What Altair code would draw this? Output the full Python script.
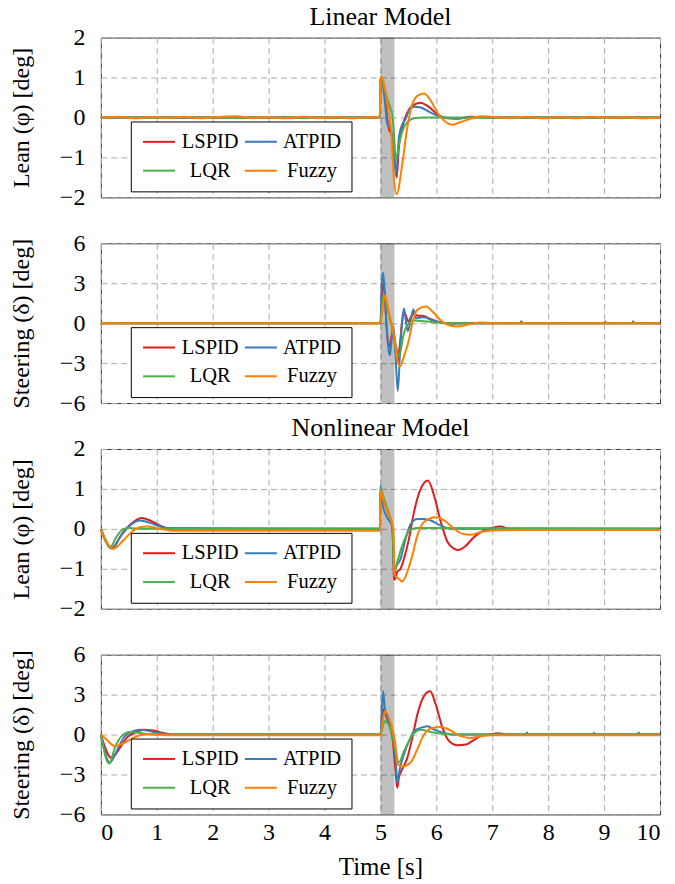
import altair as alt
import pandas as pd

FONT = "Liberation Serif"
SERIES = ["LSPID", "ATPID", "LQR", "Fuzzy"]
COLORS = ["#e41a1c", "#377eb8", "#4daf4a", "#ff7f00"]
X_TICKS = list(range(11))
LEAN_TICKS = [-2, -1, 0, 1, 2]
STEER_TICKS = [-6, -3, 0, 3, 6]
BAND_START = [5.0]
BAND_END = [5.25]

# ---------------- Linear model, lean ----------------
LIN_LEAN_LSPID_T = [0, 4.99, 5.0, 5.02, 5.065, 5.125, 5.155, 5.2, 5.26, 5.29, 5.33, 5.39, 5.48, 5.57, 5.72, 5.84, 6.02, 6.2, 6.38, 6.61, 7.0, 10]
LIN_LEAN_LSPID_V = [0, 0, 0.95, 0.97, 0.75, -0.08, -0.3, -0.42, -1.17, -1.5, -0.75, -0.25, 0.12, 0.29, 0.37, 0.29, 0.08, -0.02, -0.03, 0.02, 0, 0]
LIN_LEAN_ATPID_T = [0, 4.99, 5.0, 5.02, 5.065, 5.125, 5.185, 5.245, 5.28, 5.33, 5.39, 5.45, 5.51, 5.6, 5.72, 5.9, 6.08, 6.32, 6.6, 10]
LIN_LEAN_ATPID_V = [0, 0, 0.95, 0.97, 0.58, -0.17, -0.3, -0.92, -1.42, -0.5, -0.17, -0.04, 0.17, 0.27, 0.25, 0.12, 0.02, -0.02, 0, 0]
LIN_LEAN_LQR_T = [0, 4.99, 5.0, 5.02, 5.065, 5.155, 5.215, 5.245, 5.275, 5.33, 5.42, 5.51, 5.6, 5.78, 10]
LIN_LEAN_LQR_V = [0, 0, 1.0, 1.0, 0.75, 0.33, 0.04, -0.5, -1.08, -0.67, -0.25, -0.08, -0.02, 0, 0]
LIN_LEAN_FUZZY_T = [0, 0.3, 0.6, 0.9, 1.2, 1.5, 1.8, 2.1, 2.4, 2.7, 3.0, 3.3, 3.6, 3.9, 4.2, 4.5, 4.8, 4.99,
                    5.0, 5.03, 5.125, 5.2, 5.24, 5.29, 5.39, 5.48, 5.57, 5.66, 5.78, 5.9, 6.02, 6.14, 6.29, 6.43,
                    6.61, 6.79, 7.0, 7.3, 7.6, 7.9, 8.2, 8.5, 8.8, 9.1, 9.4, 9.7, 10]
LIN_LEAN_FUZZY_V = [0, 0.02, -0.02, 0.01, -0.01, 0.02, -0.02, 0.01, 0.03, -0.01, 0.01, -0.02, 0.02, -0.01, 0.01, -0.02, 0.01, 0,
                    1.02, 1.0, 0.33, -0.5, -1.5, -1.92, -1.17, -0.25, 0.33, 0.54, 0.6, 0.42, 0.12, -0.08, -0.18, -0.12,
                    -0.03, 0.03, 0.02, -0.01, 0.02, -0.02, 0.01, -0.02, 0.02, -0.01, 0.01, -0.02, 0]

# ---------------- Linear model, steering ----------------
LIN_STEER_LSPID_T = [0, 4.99, 5.0, 5.03, 5.05, 5.08, 5.11, 5.155, 5.2, 5.23, 5.27, 5.3, 5.35, 5.39, 5.43, 5.47, 5.5, 5.55, 5.6, 5.66, 5.75, 5.9, 6.05, 6.2, 10]
LIN_STEER_LSPID_V = [0, 0, 0, 2.5, 3.0, 2.0, -0.25, -1.75, -1.0, -0.5, -2.0, -3.0, -1.5, 0.2, 0.8, 0.4, 0.1, 0.5, 0.75, 0.55, 0.55, 0.3, 0.08, 0, 0]
LIN_STEER_ATPID_T = [0, 4.99, 5.0, 5.024, 5.048, 5.077, 5.11, 5.155, 5.17, 5.2, 5.23, 5.27, 5.31, 5.35, 5.39, 5.42, 5.46, 5.49,
                     5.53, 5.59, 5.63, 5.69, 5.78, 5.9, 6.08, 6.26, 6.5, 7.5, 7.52, 7.54, 9.0, 9.02, 9.04, 9.5, 9.52, 9.54, 10]
LIN_STEER_ATPID_V = [0, 0, 0, 3.0, 3.8, 2.25, -0.25, -2.25, -2.4, -1.25, -0.25, -2.5, -5.1, -2.25, 0.25, 1.1, 0, -0.6,
                     0, 1.05, 0.37, 0.4, 0.45, 0.25, 0.05, -0.05, 0, 0, 0.15, 0, 0, 0.12, 0, 0, 0.15, 0, 0]
LIN_STEER_LQR_T = [0, 4.99, 5.0, 5.05, 5.185, 5.27, 5.33, 5.42, 5.51, 5.6, 5.78, 6.0, 6.3, 10]
LIN_STEER_LQR_V = [0, 0, 0, 2.0, 0, -1.5, -2.5, -0.75, 0, 0.2, 0.15, 0.05, 0, 0]
LIN_STEER_FUZZY_T = [0, 4.99, 5.0, 5.077, 5.155, 5.245, 5.3, 5.35, 5.42, 5.51, 5.57, 5.66, 5.81, 5.96, 6.1, 6.26, 6.375, 6.55, 6.79, 7.0, 10]
LIN_STEER_FUZZY_V = [0, 0, 0, 2.1, 0.75, -1.0, -2.75, -3.25, -2.5, -1.25, 0, 1.0, 1.25, 0.75, 0.12, -0.2, -0.25, -0.12, 0.05, 0, 0]

# ---------------- Nonlinear model, lean ----------------
NL_LEAN_LSPID_T = [0, 0.19, 0.4, 0.58, 0.73, 0.88, 1.06, 1.24, 4.99, 5.0, 5.065, 5.155, 5.215, 5.245, 5.255, 5.3, 5.36, 5.42, 5.51,
                   5.6, 5.72, 5.85, 5.96, 6.08, 6.2, 6.32, 6.39, 6.53, 6.67, 6.85, 7.0, 7.15, 7.3, 10]
NL_LEAN_LSPID_V = [0, -0.48, -0.08, 0.17, 0.27, 0.21, 0.08, 0, 0, 0.96, 0.67, 0.33, 0, -1.25, -1.27, -1.08, -1.0, -0.75, -0.25,
                   0.42, 1.0, 1.21, 0.83, 0.17, -0.33, -0.5, -0.53, -0.42, -0.21, -0.04, 0.03, 0.06, 0, 0]
NL_LEAN_ATPID_T = [0, 0.2, 0.37, 0.55, 0.7, 0.94, 1.18, 4.99, 5.0, 5.03, 5.09, 5.215, 5.245, 5.27, 5.36, 5.45, 5.54, 5.66, 5.78, 5.9, 6.08, 6.26, 10]
NL_LEAN_ATPID_V = [0, -0.5, -0.15, 0.12, 0.21, 0.12, 0.02, 0, 1.08, 0.67, 0.37, 0.04, -1.17, -1.0, -0.75, -0.25, 0.12, 0.25, 0.25, 0.21, 0.08, 0, 0]
NL_LEAN_LQR_T = [0, 0.17, 0.28, 0.4, 0.52, 0.7, 4.99, 5.0, 5.065, 5.155, 5.215, 5.245, 5.3, 5.39, 5.48, 5.57, 5.66, 10]
NL_LEAN_LQR_V = [0, -0.45, -0.2, 0, 0.02, 0, 0, 1.0, 0.75, 0.37, 0.08, -1.08, -0.83, -0.42, -0.12, 0, 0.02, 0]
NL_LEAN_FUZZY_T = [0, 0.22, 0.4, 0.55, 0.7, 0.82, 1.06, 1.3, 4.99, 5.0, 5.065, 5.155, 5.23, 5.255, 5.33, 5.39, 5.48, 5.57, 5.66,
                   5.78, 5.99, 6.14, 6.32, 6.46, 6.61, 6.79, 7.0, 7.5, 10]
NL_LEAN_FUZZY_V = [0, -0.5, -0.29, -0.08, 0.04, 0.06, 0, -0.05, -0.05, 0.95, 0.67, 0.33, 0, -1.17, -1.25, -1.32, -1.08, -0.67, -0.17,
                   0.17, 0.29, 0.21, 0, -0.12, -0.15, -0.08, -0.04, -0.03, -0.03]

# ---------------- Nonlinear model, steering ----------------
NL_STEER_LSPID_T = [0, 0.19, 0.34, 0.46, 0.64, 0.76, 0.94, 1.12, 1.3, 4.99, 5.0, 5.055, 5.125, 5.215, 5.27, 5.3, 5.33, 5.39, 5.48,
                    5.57, 5.66, 5.78, 5.89, 5.99, 6.11, 6.23, 6.38, 6.53, 6.64, 6.79, 7.0, 7.1, 7.3, 10]
NL_STEER_LSPID_V = [0, -1.75, -1.0, -0.25, 0.2, 0.37, 0.3, 0.12, 0, 0, 0, 1.9, 1.1, -0.25, -2.75, -4.0, -3.25, -2.6, -1.75,
                    -0.25, 1.5, 2.9, 3.25, 2.25, 0.5, -0.5, -0.8, -0.75, -0.5, -0.12, 0.05, 0.1, 0, 0]
NL_STEER_ATPID_T = [0, 0.16, 0.31, 0.43, 0.7, 0.94, 1.18, 4.99, 5.0, 5.048, 5.077, 5.125, 5.185, 5.245, 5.29, 5.3, 5.35, 5.42, 5.51,
                    5.6, 5.72, 5.84, 5.96, 6.14, 6.3, 7.6, 7.62, 7.64, 8.8, 8.82, 8.84, 9.6, 9.62, 9.64, 10]
NL_STEER_ATPID_V = [0, -2.1, -1.0, -0.12, 0.37, 0.2, 0, 0, 0, 3.25, 2.0, 1.25, 0.62, -0.75, -3.0, -3.6, -2.5, -1.5, -0.5,
                    0.25, 0.5, 0.62, 0.37, 0.12, 0, 0, 0.15, 0, 0, 0.12, 0, 0, 0.15, 0, 0]
NL_STEER_LQR_T = [0, 0.15, 0.25, 0.37, 0.52, 0.7, 0.94, 4.99, 5.0, 5.077, 5.185, 5.27, 5.33, 5.42, 5.51, 5.6, 5.72, 5.9, 6.14, 6.4, 10]
NL_STEER_LQR_V = [0, -2.2, -1.0, -0.12, 0.2, 0.12, 0, 0, 0, 1.0, 0.37, -1.25, -2.1, -1.25, -0.5, 0.12, 0.37, 0.2, 0.05, 0, 0]
NL_STEER_FUZZY_T = [0, 0.1, 0.25, 0.43, 0.58, 0.76, 0.94, 1.18, 4.99, 5.0, 5.077, 5.185, 5.26, 5.315, 5.39, 5.54, 5.66, 5.78,
                    5.93, 6.08, 6.26, 6.43, 6.61, 6.79, 7.0, 10]
NL_STEER_FUZZY_V = [0, -0.37, -0.87, -0.6, -0.25, 0, 0.05, -0.05, -0.05, -0.05, 1.75, 0.87, -0.5, -2.25, -2.4, -2.1, -1.1, 0,
                    0.5, 0.57, 0.3, -0.12, -0.25, -0.12, -0.05, -0.05]


def make_df(pairs):
    rows = []
    for name, (ts, vs) in zip(SERIES, pairs):
        for t, v in zip(ts, vs):
            rows.append({"t": t, "v": v, "s": name})
    return pd.DataFrame(rows)


def panel(pairs, ydom, yticks, ytitle, title, bottom):
    df = make_df(pairs)
    xs = alt.Scale(domain=[0, 10], nice=False)
    ys = alt.Scale(domain=ydom, nice=False)
    if bottom:
        xaxis = alt.Axis(values=X_TICKS, format="d", title="Time [s]")
    else:
        xaxis = alt.Axis(values=X_TICKS, labels=False, title=None, minExtent=0, maxExtent=0)
    yaxis = alt.Axis(values=yticks, format="d", title=ytitle)
    legend = alt.Legend(
        title=None, orient="none", legendX=30, legendY=84, columns=2, direction="horizontal",
        symbolType="M-1,0L3,0", symbolSize=256, symbolStrokeWidth=2,
        labelFont=FONT, labelFontSize=20.5, labelColor="black",
        labelAlign="center", labelOffset=49,
        strokeColor="black", fillColor="white", padding=10,
        rowPadding=8, columnPadding=2, cornerRadius=0,
    )
    band_df = pd.DataFrame({"a": BAND_START, "b": BAND_END})
    band = alt.Chart(band_df).mark_rect(color="black", opacity=0.25).encode(
        x=alt.X("a:Q", scale=xs, axis=xaxis), x2="b:Q"
    )
    layers = [band]
    for name in SERIES:
        layers.append(
            alt.Chart(df).transform_filter(alt.datum.s == name)
            .mark_line(strokeWidth=2, interpolate="monotone").encode(
                x=alt.X("t:Q", scale=xs, axis=xaxis),
                y=alt.Y("v:Q", scale=ys, axis=yaxis),
                color=alt.Color("s:N", scale=alt.Scale(domain=SERIES, range=COLORS), legend=legend),
            )
        )
    return alt.layer(*layers).properties(width=560, height=160, title=alt.TitleParams(title, offset=-4))


p1 = panel([(LIN_LEAN_LSPID_T, LIN_LEAN_LSPID_V), (LIN_LEAN_ATPID_T, LIN_LEAN_ATPID_V),
            (LIN_LEAN_LQR_T, LIN_LEAN_LQR_V), (LIN_LEAN_FUZZY_T, LIN_LEAN_FUZZY_V)],
           [-2, 2], LEAN_TICKS, "Lean (φ) [deg]", "Linear Model", False)
p2 = panel([(LIN_STEER_LSPID_T, LIN_STEER_LSPID_V), (LIN_STEER_ATPID_T, LIN_STEER_ATPID_V),
            (LIN_STEER_LQR_T, LIN_STEER_LQR_V), (LIN_STEER_FUZZY_T, LIN_STEER_FUZZY_V)],
           [-6, 6], STEER_TICKS, "Steering (δ) [deg]", " ", False)
p3 = panel([(NL_LEAN_LSPID_T, NL_LEAN_LSPID_V), (NL_LEAN_ATPID_T, NL_LEAN_ATPID_V),
            (NL_LEAN_LQR_T, NL_LEAN_LQR_V), (NL_LEAN_FUZZY_T, NL_LEAN_FUZZY_V)],
           [-2, 2], LEAN_TICKS, "Lean (φ) [deg]", "Nonlinear Model", False)
p4 = panel([(NL_STEER_LSPID_T, NL_STEER_LSPID_V), (NL_STEER_ATPID_T, NL_STEER_ATPID_V),
            (NL_STEER_LQR_T, NL_STEER_LQR_V), (NL_STEER_FUZZY_T, NL_STEER_FUZZY_V)],
           [-6, 6], STEER_TICKS, "Steering (δ) [deg]", " ", True)

chart = (
    alt.vconcat(p1, p2, p3, p4, spacing=46, bounds="flush")
    .resolve_scale(color="independent")
    .properties(padding={"left": 8, "top": 2, "right": 10, "bottom": 2}, background="white")
    .configure_view(stroke="#333333", strokeWidth=1)
    .configure_axis(
        labelFont=FONT, titleFont=FONT, labelFontSize=24, titleFontSize=24,
        labelColor="black", titleColor="black", titleFontWeight="normal",
        domain=False, ticks=False, gridColor="#aaaaaa", gridDash=[6, 4], gridWidth=1,
    )
    .configure_axisY(labelPadding=16, titlePadding=26)
    .configure_axisX(labelPadding=6, titlePadding=10, titleFontSize=25)
    .configure_title(font=FONT, fontSize=26, fontWeight="normal", color="black",
                     frame="group", anchor="middle")
)

chart.save("out.html", embed_options={"renderer": "svg", "actions": False})
